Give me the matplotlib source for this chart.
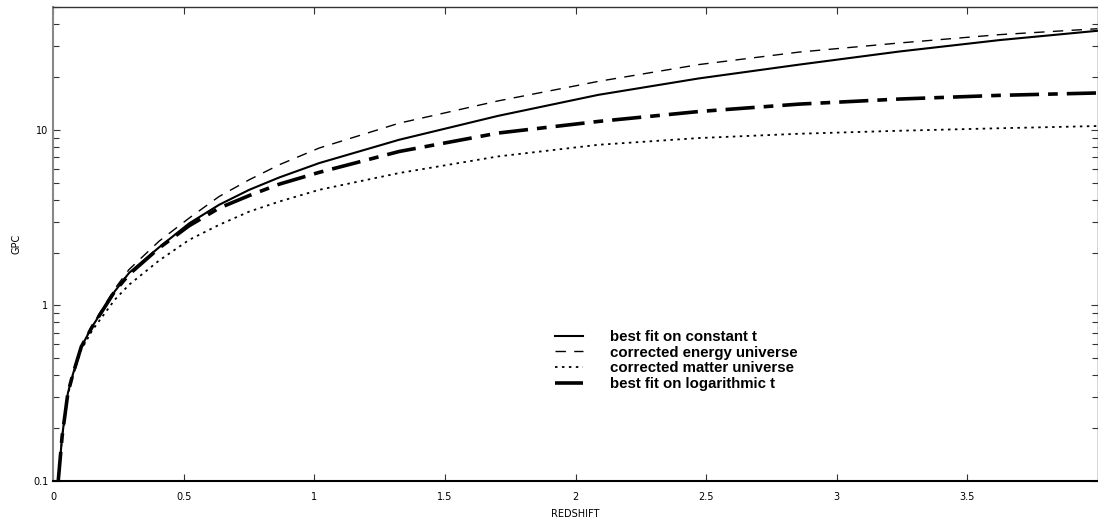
import numpy as np
import matplotlib
matplotlib.use("Agg")
import matplotlib.pyplot as plt
from matplotlib.ticker import LogLocator, FixedLocator, NullFormatter

plt.rcParams["lines.scale_dashes"] = False

# redshift samples
redshift = [0.02, 0.035, 0.057, 0.075, 0.108, 0.15, 0.236, 0.291, 0.406, 0.521,
            0.636, 0.751, 0.866, 1.019, 1.325, 1.704, 2.087, 2.472, 2.857,
            3.24, 3.623, 3.998]

# distances in Gpc
const_t = [0.1, 0.18, 0.317, 0.40, 0.58, 0.757, 1.2, 1.53, 2.14, 2.93,
           3.74, 4.55, 5.35, 6.46, 8.77, 12.0, 15.8, 19.6, 23.5,
           27.9, 32.4, 36.6]
energy = [0.1, 0.18, 0.317, 0.40, 0.585, 0.77, 1.24, 1.6, 2.32, 3.14,
          4.17, 5.19, 6.32, 7.87, 10.9, 14.6, 18.85, 23.5, 27.7,
          31.2, 34.8, 37.6]
matter = [0.1, 0.178, 0.31, 0.39, 0.558, 0.72, 1.075, 1.31, 1.80, 2.36,
          2.875, 3.42, 3.90, 4.55, 5.67, 7.05, 8.21, 8.97, 9.49,
          9.87, 10.2, 10.5]
log_t = [0.1, 0.18, 0.317, 0.40, 0.58, 0.755, 1.2, 1.5, 2.12, 2.84,
         3.58, 4.22, 4.9, 5.72, 7.52, 9.58, 11.15, 12.7, 14.0,
         14.96, 15.7, 16.2]

labels = ["best fit on constant t", "corrected energy universe",
          "corrected matter universe", "best fit on logarithmic t"]

fig = plt.figure(figsize=(10.98, 5.23), dpi=100)
ax = fig.add_axes([53 / 1098, 1 - 481 / 523, 1 - 53 / 1098, (481 - 7) / 523])

ax.plot(redshift, const_t, color="black", lw=1.5, label=labels[0])
ax.plot(redshift, energy, color="black", lw=1.0, dashes=(7.5, 6), label=labels[1])
ax.plot(redshift, matter, color="black", lw=1.3, dashes=(1.8, 3.2), label=labels[2])
ax.plot(redshift, log_t, color="black", lw=2.6, dashes=(21, 6.5, 7, 6.5),
        label=labels[3])

ax.set_yscale("log")
ax.set_xlim(0, 4)
ax.set_ylim(0.1, 50)

ax.xaxis.set_major_locator(FixedLocator([0, 0.5, 1, 1.5, 2, 2.5, 3, 3.5]))
ax.set_xticklabels(["0", "0.5", "1", "1.5", "2", "2.5", "3", "3.5"])
ax.yaxis.set_major_locator(FixedLocator([0.1, 1, 10]))
ax.set_yticklabels(["0.1", "1", "10"])
ax.yaxis.set_minor_locator(LogLocator(base=10, subs=np.arange(2, 10)))
ax.yaxis.set_minor_formatter(NullFormatter())

ax.tick_params(axis="both", which="major", direction="in", length=5, width=0.8,
               labelsize=7, top=True, right=True, colors="#333333",
               labelcolor="black")
ax.tick_params(axis="y", which="minor", direction="in", length=4, width=0.8,
               right=True, colors="#333333")
ax.tick_params(axis="x", pad=8)

for side in ["top", "right"]:
    ax.spines[side].set_color("#333333")
    ax.spines[side].set_linewidth(1.0)
ax.spines["bottom"].set_color("black")
ax.spines["bottom"].set_linewidth(1.5)
ax.spines["left"].set_color("#888888")
ax.spines["left"].set_linewidth(1.5)

ax.set_xlabel("REDSHIFT", fontsize=7, labelpad=5)
ax.set_ylabel("GPC", fontsize=7, labelpad=8)

leg = fig.legend(loc="upper left", bbox_to_anchor=(555 / 1098, 1 - 330 / 523),
                 bbox_transform=fig.transFigure, frameon=False,
                 prop={"family": "Liberation Sans", "weight": "bold", "size": 10.8},
                 handlelength=1.87, handletextpad=1.8, labelspacing=0.11,
                 borderpad=0, borderaxespad=0)

fig.savefig("out.png", dpi=100)
